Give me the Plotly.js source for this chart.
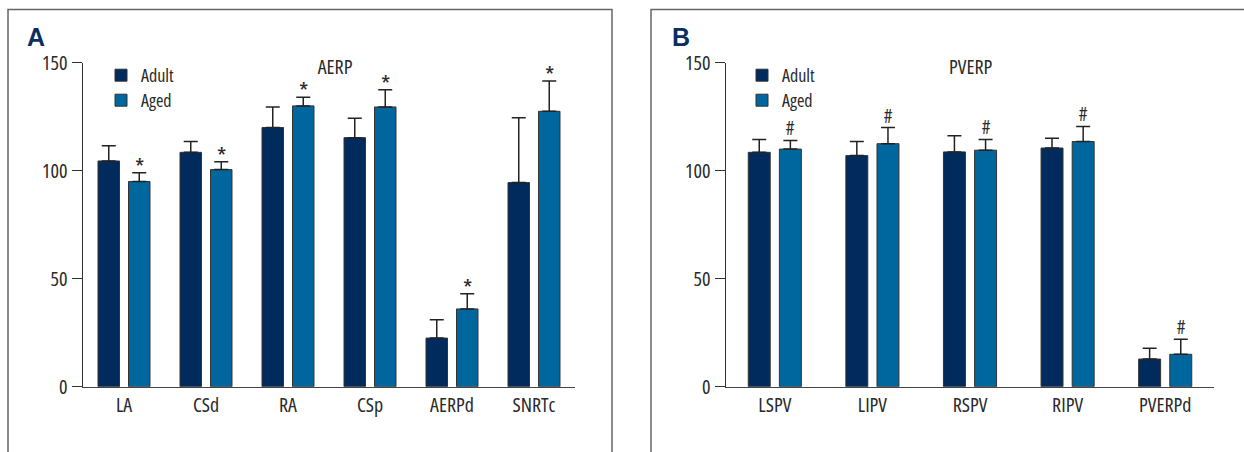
<!DOCTYPE html>
<html><head><meta charset="utf-8">
<script src="https://cdn.plot.ly/plotly-3.0.1.min.js"></script>
<style>html,body{margin:0;padding:0;background:#fff}#chart{width:1244px;height:452px}
#chart text{font-stretch:condensed !important;}</style>
</head><body><div id="chart"></div>
<script>
// ---- data ----
const categoriesA = ['LA', 'CSd', 'RA', 'CSp', 'AERPd', 'SNRTc'];
const adultA      = [104.5, 108.5, 120.0, 115.3, 22.5, 94.5];
const adultErrA   = [7.0, 5.0, 9.5, 9.0, 8.5, 30.0];
const agedA       = [95.0, 100.5, 130.0, 129.5, 36.0, 127.5];
const agedErrA    = [4.0, 3.7, 4.0, 8.0, 7.0, 14.0];
const markA       = ['*', '*', '*', '*', '*', '*'];

const categoriesB = ['LSPV', 'LIPV', 'RSPV', 'RIPV', 'PVERPd'];
const adultB      = [108.5, 107.0, 108.7, 110.5, 12.8];
const adultErrB   = [6.0, 6.5, 7.5, 4.5, 5.0];
const agedB       = [110.0, 112.5, 109.5, 113.5, 15.0];
const agedErrB    = [4.0, 7.5, 5.0, 7.0, 7.0];
const markB       = ['#', '#', '#', '#', '#'];

const yTicks = [0, 50, 100, 150];
const seriesNames = ['Adult', 'Aged'];
const titleA = 'AERP', titleB = 'PVERP';

// ---- style ----
const W = 1244, H = 452;
const px = x => x / W, py = y => 1 - y / H;
const FONT = '"Open Sans", "Noto Sans", sans-serif';
const C_ADULT = '#002b5c', C_AGED = '#00679e';
const TXT = '#2a2a2a';
const zeros = a => a.map(() => 0);

function errY(arr) {
  return {type: 'data', symmetric: false, array: arr, arrayminus: zeros(arr),
          color: '#222', thickness: 1.5, width: 7};
}
const geomA = {w: 0.262, off: [-0.317, 0.055]};
const geomB = {w: 0.225, off: [-0.272, 0.047]};

function bar(cats, vals, errs, name, color, xa, ya, geom, k, leg) {
  return {type: 'bar', x: cats, y: vals, name: name, xaxis: xa, yaxis: ya,
          width: geom.w, offset: geom.off[k], legend: leg,
          marker: {color: color, line: {color: '#333', width: 1}},
          error_y: errY(errs), hoverinfo: 'x+y'};
}

const data = [
  bar(categoriesA, adultA, adultErrA, seriesNames[0], C_ADULT, 'x', 'y', geomA, 0, 'legend'),
  bar(categoriesA, agedA, agedErrA, seriesNames[1], C_AGED, 'x', 'y', geomA, 1, 'legend2'),
  bar(categoriesB, adultB, adultErrB, seriesNames[0], C_ADULT, 'x2', 'y2', geomB, 0, 'legend3'),
  bar(categoriesB, agedB, agedErrB, seriesNames[1], C_AGED, 'x2', 'y2', geomB, 1, 'legend4')
];

const annotations = [];
agedA.forEach((v, i) => annotations.push({
  xref: 'x', yref: 'y', x: i + geomA.off[1] + geomA.w / 2, y: v + agedErrA[i],
  text: markA[i], showarrow: false, yanchor: 'bottom', yshift: -12,
  font: {family: FONT, size: 24, color: TXT}}));
agedB.forEach((v, i) => annotations.push({
  xref: 'x2', yref: 'y2', x: i + geomB.off[1] + geomB.w / 2, y: v + agedErrB[i],
  text: markB[i], showarrow: false, yanchor: 'bottom', yshift: -3,
  font: {family: FONT, size: 19, color: TXT}}));
annotations.push(
  {xref: 'paper', yref: 'paper', x: px(335), y: py(67), text: titleA, showarrow: false,
   xanchor: 'center', yanchor: 'middle', font: {family: FONT, size: 20, color: TXT}},
  {xref: 'paper', yref: 'paper', x: px(970), y: py(67), text: titleB, showarrow: false,
   xanchor: 'center', yanchor: 'middle', font: {family: FONT, size: 20, color: TXT}},
  {xref: 'paper', yref: 'paper', x: px(25), y: py(37), text: '<b>A</b>', showarrow: false,
   xanchor: 'left', yanchor: 'middle', font: {family: '"Liberation Sans", sans-serif', size: 25, color: '#0a2f62'}},
  {xref: 'paper', yref: 'paper', x: px(670), y: py(37), text: '<b>B</b>', showarrow: false,
   xanchor: 'left', yanchor: 'middle', font: {family: '"Liberation Sans", sans-serif', size: 25, color: '#0a2f62'}}
);

function yax(anchor) {
  return {domain: [py(386.7), py(62.7)], range: [0, 150], tickvals: yTicks, ticktext: yTicks.map(String),
          anchor: anchor, showgrid: false, zeroline: false, showline: true, linecolor: '#333', linewidth: 1.5,
          ticks: 'outside', ticklen: 10, tickwidth: 1.5, tickcolor: '#333',
          tickfont: {family: FONT, size: 20, color: TXT}, fixedrange: true};
}
function xax(domain, anchor, n) {
  return {domain: domain, anchor: anchor, type: 'category', range: [-0.5, n - 0.5],
          showgrid: false, zeroline: false, showline: true, linecolor: '#444', linewidth: 1.5,
          ticks: '', tickfont: {family: FONT, size: 20, color: TXT}, fixedrange: true};
}

const legendBase = {bgcolor: 'rgba(0,0,0,0)', borderwidth: 0, traceorder: 'normal',
  font: {family: FONT, size: 18, color: TXT}, xanchor: 'left', yanchor: 'middle'};

const layout = {
  width: W, height: H, margin: {l: 0, r: 0, t: 0, b: 0},
  paper_bgcolor: '#fff', plot_bgcolor: 'rgba(0,0,0,0)', showlegend: true,
  xaxis: xax([px(83), px(575)], 'y', categoriesA.length),
  yaxis: yax('x'),
  xaxis2: xax([px(726), px(1214)], 'y2', categoriesB.length),
  yaxis2: yax('x2'),
  legend:  Object.assign({x: px(101), y: py(75.5)}, legendBase),
  legend2: Object.assign({x: px(101), y: py(100.5)}, legendBase),
  legend3: Object.assign({x: px(742), y: py(75.5)}, legendBase),
  legend4: Object.assign({x: px(742), y: py(100.5)}, legendBase),
  annotations: annotations,
  shapes: [
    {type: 'rect', xref: 'paper', yref: 'paper', x0: px(8), x1: px(612), y0: -0.1, y1: py(9.5),
     line: {color: '#666', width: 1.5}},
    {type: 'rect', xref: 'paper', yref: 'paper', x0: px(651), x1: 1.1, y0: -0.1, y1: py(9.5),
     line: {color: '#666', width: 1.5}}
  ]
};

Plotly.newPlot('chart', data, layout, {displayModeBar: false, staticPlot: true});
</script>
</body></html>
